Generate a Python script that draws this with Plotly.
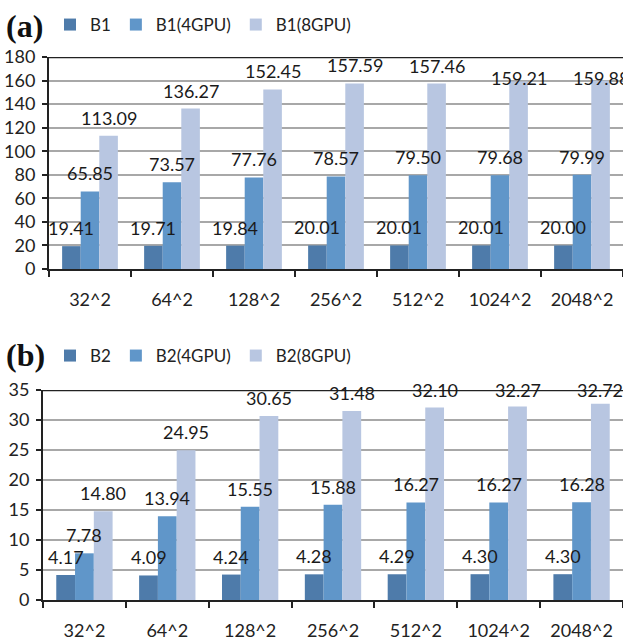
import plotly.graph_objects as go

categories = ["32^2", "64^2", "128^2", "256^2", "512^2", "1024^2", "2048^2"]

b1_names = ["B1", "B1(4GPU)", "B1(8GPU)"]
b1_base = [19.41, 19.71, 19.84, 20.01, 20.01, 20.01, 20.00]
b1_4gpu = [65.85, 73.57, 77.76, 78.57, 79.50, 79.68, 79.99]
b1_8gpu = [113.09, 136.27, 152.45, 157.59, 157.46, 159.21, 159.88]

b2_names = ["B2", "B2(4GPU)", "B2(8GPU)"]
b2_base = [4.17, 4.09, 4.24, 4.28, 4.29, 4.30, 4.30]
b2_4gpu = [7.78, 13.94, 15.55, 15.88, 16.27, 16.27, 16.28]
b2_8gpu = [14.80, 24.95, 30.65, 31.48, 32.10, 32.27, 32.72]

top_ticks = [0, 20, 40, 60, 80, 100, 120, 140, 160, 180]
bot_ticks = [0, 5, 10, 15, 20, 25, 30, 35]

colors = ["#4E7BAA", "#6096C9", "#B8C6E1"]
FONT = "Lato, 'Open Sans', sans-serif"
BARGAP = 0.32

W, H = 623, 640
# plot area pixel boxes (left, top, right, bottom)
top_box = (49, 57, 623, 269)
bot_box = (43, 390, 624, 600)

fig = go.Figure()

def add_chart(series, names, xa, ya, legend):
    for j, (vals, nm) in enumerate(zip(series, names)):
        fig.add_trace(go.Bar(
            x=categories, y=vals, name=nm, marker_color=colors[j],
            marker_line_width=0, xaxis=xa, yaxis=ya, legend=legend,
            hoverinfo="skip",
        ))

add_chart([b1_base, b1_4gpu, b1_8gpu], b1_names, "x", "y", "legend")
add_chart([b2_base, b2_4gpu, b2_8gpu], b2_names, "x2", "y2", "legend2")

def labels(series, xa, ya, ymax, box, mode):
    px_per_unit = (box[3] - box[1]) / ymax
    off = 18 / px_per_unit
    half = 8 / px_per_unit
    bw = (1 - BARGAP) / 3
    for j, vals in enumerate(series):
        for i, v in enumerate(vals):
            c = v + off
            if c + half > ymax:
                if mode == "low":
                    c = v + 3 / px_per_unit
                else:
                    c = min(c, ymax)
            fig.add_annotation(
                x=i + (j - 1) * bw, y=c, xref=xa, yref=ya,
                text=f"{v:.2f}", showarrow=False, yanchor="middle",
                font=dict(family=FONT, size=18, color="#1a1a1a"),
            )

labels([b1_base, b1_4gpu, b1_8gpu], "x", "y", 180, top_box, "low")
labels([b2_base, b2_4gpu, b2_8gpu], "x2", "y2", 35, bot_box, "clamp")

def xdom(b):
    return [b[0] / W, min(1, b[2] / W)]

def ydom(b):
    return [(H - b[3]) / H, (H - b[1]) / H]

xcommon = dict(
    type="category", tickson="boundaries", ticks="outside", ticklen=6,
    tickwidth=2, tickcolor="#222", showline=True, linecolor="#222",
    linewidth=2, showgrid=False, ticklabelstandoff=13, automargin=False,
    tickfont=dict(family=FONT, size=18, color="#222"),
    range=[-0.5, 6.5], fixedrange=True,
)
ycommon = dict(
    showline=True, linecolor="#222", linewidth=2, ticks="outside",
    ticklen=5, tickwidth=1.5, tickcolor="#222", showgrid=True,
    gridcolor="#A8A8A8", gridwidth=1.5, zeroline=False, automargin=False,
    tickfont=dict(family=FONT, size=18, color="#222"),
    ticklabelstandoff=3, fixedrange=True,
)

fig.update_layout(
    width=W, height=H, margin=dict(l=0, r=0, t=0, b=0, autoexpand=False),
    paper_bgcolor="white", plot_bgcolor="white",
    barmode="group", bargap=BARGAP, bargroupgap=0,
    showlegend=True,
    xaxis=dict(domain=xdom(top_box), anchor="y", **xcommon),
    yaxis=dict(domain=ydom(top_box), anchor="x", range=[0, 180],
               tickvals=top_ticks, **ycommon),
    xaxis2=dict(domain=xdom(bot_box), anchor="y2", **xcommon),
    yaxis2=dict(domain=ydom(bot_box), anchor="x2", range=[0, 35],
                tickvals=bot_ticks, **ycommon),
    legend=dict(orientation="h", x=50 / W, y=(H - 25) / H, xanchor="left",
                yanchor="middle", font=dict(family=FONT, size=17, color="#222"),
                bgcolor="rgba(0,0,0,0)"),
    legend2=dict(orientation="h", x=50 / W, y=(H - 356) / H, xanchor="left",
                 yanchor="middle", font=dict(family=FONT, size=17, color="#222"),
                 bgcolor="rgba(0,0,0,0)"),
)

# top border lines of plot areas (dark frame line at max value)
for ya, xa, ymax in (("y", "x", 180), ("y2", "x2", 35)):
    fig.add_shape(type="line", xref=f"{xa} domain", yref=ya, x0=0, x1=1,
                  y0=ymax, y1=ymax, line=dict(color="#222", width=2.5))

fig.add_annotation(text="<b>(a)</b>", xref="paper", yref="paper",
                   x=4 / W, y=(H - 26) / H, xanchor="left", yanchor="middle",
                   showarrow=False,
                   font=dict(family="'Liberation Serif', serif", size=32, color="#111"))
fig.add_annotation(text="<b>(b)</b>", xref="paper", yref="paper",
                   x=4 / W, y=(H - 355) / H, xanchor="left", yanchor="middle",
                   showarrow=False,
                   font=dict(family="'Liberation Serif', serif", size=32, color="#111"))

fig.write_html(
    "out.html",
    config={"displayModeBar": False},
    post_script="document.body.style.margin='0';document.body.style.overflow='hidden';",
)
